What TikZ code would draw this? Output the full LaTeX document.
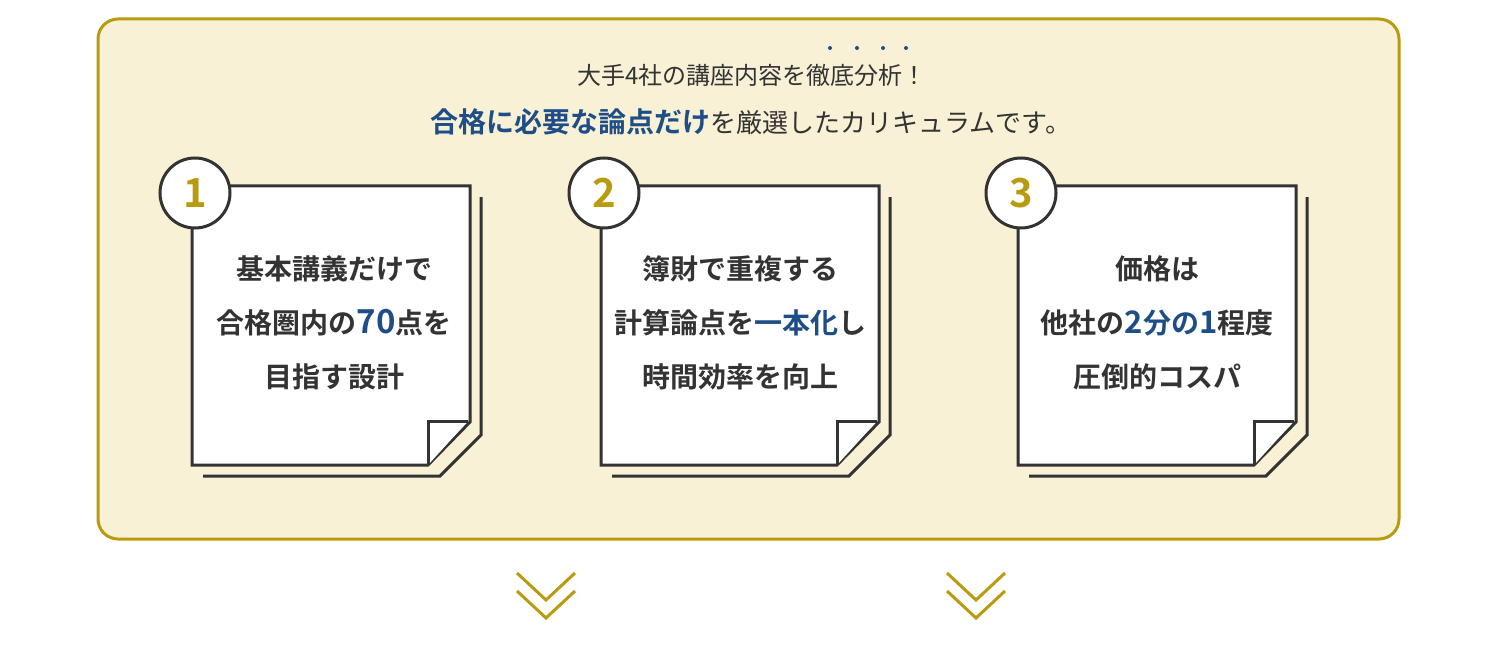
\documentclass[tikz,border=0pt]{standalone}
\usepackage{fontspec}
\newfontfamily\jp{Noto Sans CJK JP}
\newfontfamily\jpb{Noto Sans CJK JP Bold}
\definecolor{gold}{HTML}{B89B0E}
\definecolor{cream}{HTML}{F8F1D6}
\definecolor{navy}{HTML}{1F4E87}
\definecolor{ink}{HTML}{333333}
\begin{document}
\begin{tikzpicture}[x=1pt,y=-1pt,
  card/.style={draw=ink,line width=3pt,fill=white},
  shadowline/.style={draw=ink,line width=3pt},
  num/.style={circle,draw=ink,line width=3pt,fill=white,minimum size=70pt,inner sep=0pt,font=\jpb\fontsize{40}{40}\selectfont,text=gold},
  body/.style={font=\jpb\fontsize{28}{28}\selectfont,text=ink,align=center},
  chev/.style={draw=gold,line width=3pt}]
\useasboundingbox (0,0) rectangle (1500,650);
\fill[white] (0,0) rectangle (1500,650);
\draw[gold,line width=3pt,fill=cream,rounded corners=20pt] (98,19) rectangle (1399,539);
\node[font=\jp\fontsize{24}{24}\selectfont,text=ink] (h1) at (752,75) {大手4社の講座内容を徹底分析！};
\foreach \i/\xx in {1/830,2/857,3/883,4/906} \fill[navy] (\xx,48) circle (2pt) coordinate (d\i);
\node[inner sep=0pt] (h2) at (751,122) {\jpb\fontsize{28}{28}\selectfont\color{navy}合格に必要な論点だけ\jp\fontsize{26}{26}\selectfont\color{ink}を厳選したカリキュラムです。};
\foreach \k/\L in {1/192,2/601,3/1018}{
  \draw[shadowline] (\L+289,197) -- (\L+289,435) -- (\L+248,476) -- (\L+11,476);
  \draw[card] (\L,186) -- (\L+278,186) -- (\L+278,422) -- (\L+236,465) -- (\L,465) -- cycle;
  \draw[card,line join=miter] (\L+236,465) -- (\L+236,421) -- (\L+276,421);
  \node[num] (n\k) at (\L+3,193) {\k};
}
\node[body] (t1) at (334,323) {基本講義だけで\\[26pt]合格圏内の{\color{navy}\fontsize{33}{33}\selectfont 70}点を\\[26pt]目指す設計};
\node[body] (t2) at (740,323) {簿財で重複する\\[26pt]計算論点を{\color{navy}一本化}し\\[26pt]時間効率を向上};
\node[body] (t3) at (1157,323) {価格は\\[26pt]他社の{\color{navy}\fontsize{31}{31}\selectfont 2}{\color{navy}分の}{\color{navy}\fontsize{31}{31}\selectfont 1}程度\\[26pt]圧倒的コスパ};
\foreach \c in {546,976}{
  \draw[chev] (\c-29,573) -- (\c,600) -- (\c+29,573);
  \draw[chev] (\c-29,591) -- (\c,618) -- (\c+29,591);
}
\end{tikzpicture}
\end{document}
